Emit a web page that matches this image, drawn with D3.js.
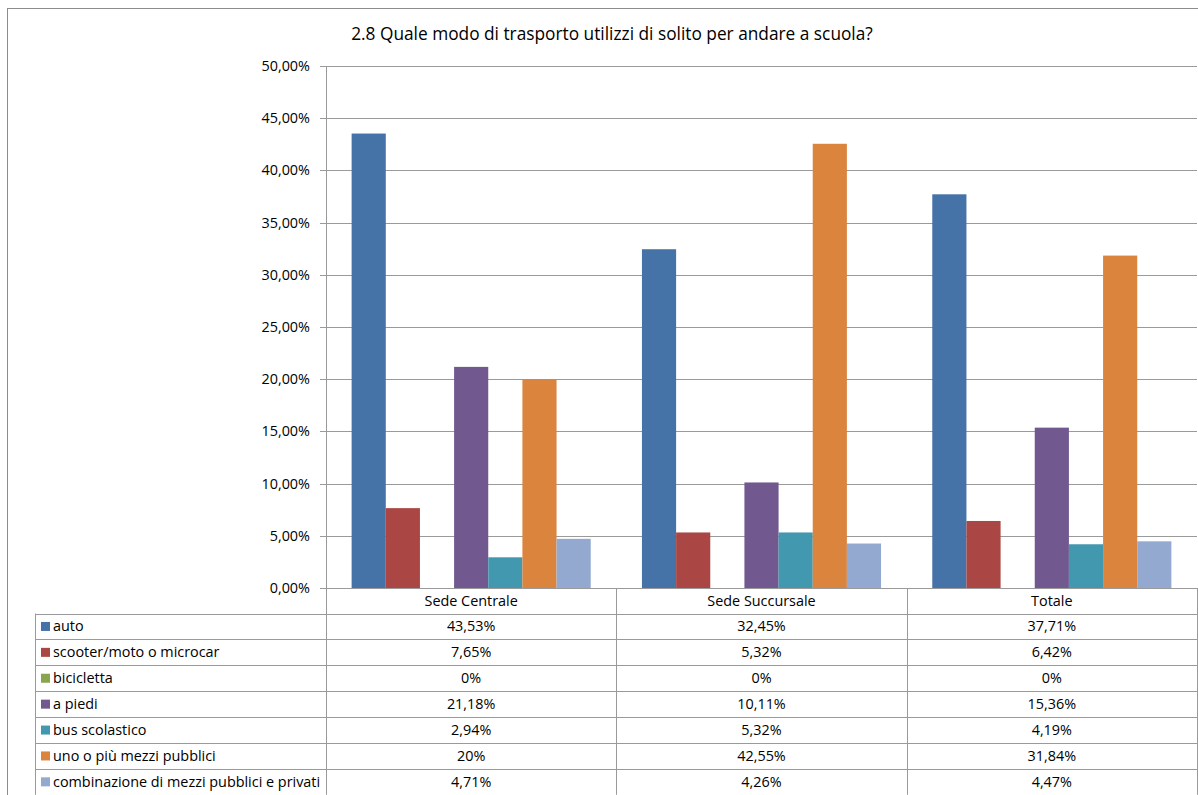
<!DOCTYPE html>
<html><head><meta charset="utf-8">
<script src="https://cdn.jsdelivr.net/npm/d3@7"></script>
<style>body{margin:0;background:#fff;}svg{display:block;font-family:"Open Sans","Noto Sans",sans-serif;}</style>
</head><body><svg id="c" width="1198" height="795"></svg>
<script>
const title = "2.8 Quale modo di trasporto utilizzi di solito per andare a scuola?";
const categories = ["Sede Centrale", "Sede Succursale", "Totale"];
const seriesNames = ["auto", "scooter/moto o microcar", "bicicletta", "a piedi", "bus scolastico", "uno o più mezzi pubblici", "combinazione di mezzi pubblici e privati"];
const seriesColors = ["#4572A7", "#AA4643", "#89A54E", "#71588F", "#4198AF", "#DB843D", "#93A9CF"];
const auto = [43.53, 32.45, 37.71];
const scooter = [7.65, 5.32, 6.42];
const bicicletta = [0, 0, 0];
const aPiedi = [21.18, 10.11, 15.36];
const bus = [2.94, 5.32, 4.19];
const mezziPubblici = [20, 42.55, 31.84];
const combinazione = [4.71, 4.26, 4.47];
const tableLabels = [
  ["43,53%", "32,45%", "37,71%"],
  ["7,65%", "5,32%", "6,42%"],
  ["0%", "0%", "0%"],
  ["21,18%", "10,11%", "15,36%"],
  ["2,94%", "5,32%", "4,19%"],
  ["20%", "42,55%", "31,84%"],
  ["4,71%", "4,26%", "4,47%"]
];
const yTicks = [0, 5, 10, 15, 20, 25, 30, 35, 40, 45, 50];
const series = [auto, scooter, bicicletta, aPiedi, bus, mezziPubblici, combinazione];

(function(){
const svg = d3.select("#c");
const W = 1198, H = 795;
const pLeft = 326, pRight = 1197, pTop = 66, pBottom = 588;
const tableTop = 613.5, rowH = 25.9, labelLeft = 35;
const fs = 14.4;

svg.append("rect").attr("x", 7.5).attr("y", 8.5).attr("width", W + 10).attr("height", H + 10)
  .attr("fill", "none").attr("stroke", "#8c8c8c").attr("stroke-width", 1);

svg.append("text").attr("x", 612).attr("y", 40).attr("text-anchor", "middle")
  .attr("font-size", 17.3).attr("fill", "#000").text(title);

const y = d3.scaleLinear().domain([0, 50]).range([pBottom, pTop]);
const x0 = d3.scaleBand().domain(categories).range([pLeft, pRight]);
const unit = x0.bandwidth() / 8.5;
const x1 = d3.scaleBand().domain(d3.range(seriesNames.length))
  .range([unit * 0.75, x0.bandwidth() - unit * 0.75]);

svg.append("g").selectAll("line").data(yTicks).join("line")
  .attr("x1", pLeft - 6).attr("x2", pRight).attr("y1", d => Math.round(y(d)) + 0.5).attr("y2", d => Math.round(y(d)) + 0.5)
  .attr("stroke", "#9a9a9a").attr("stroke-width", 1);

svg.append("g").selectAll("text").data(yTicks).join("text")
  .attr("x", 310).attr("y", d => y(d) + 5).attr("text-anchor", "end")
  .attr("font-size", 14.4).attr("fill", "#000")
  .text(d => d3.format(".2f")(d).replace(".", ",") + "%");

const g = svg.append("g");
categories.forEach((c, ci) => {
  series.forEach((s, si) => {
    if (s[ci] <= 0) return;
    g.append("rect")
      .attr("x", x0(c) + x1(si))
      .attr("y", y(s[ci]))
      .attr("width", x1.bandwidth())
      .attr("height", pBottom - y(s[ci]))
      .attr("fill", seriesColors[si]);
  });
});

const tableBottom = tableTop + rowH * seriesNames.length;
svg.append("line").attr("x1", pLeft + 0.5).attr("x2", pLeft + 0.5).attr("y1", pTop).attr("y2", tableBottom)
  .attr("stroke", "#9a9a9a");
const seps = categories.map(c => x0(c) + x0.bandwidth());
svg.append("g").selectAll("line").data(seps).join("line")
  .attr("x1", d => Math.round(d) + 0.5).attr("x2", d => Math.round(d) + 0.5)
  .attr("y1", pBottom).attr("y2", tableBottom).attr("stroke", "#9a9a9a");

svg.append("g").selectAll("text").data(categories).join("text")
  .attr("x", d => x0(d) + x0.bandwidth() / 2).attr("y", 606).attr("text-anchor", "middle")
  .attr("font-size", fs).text(d => d);

svg.append("g").selectAll("line").data(d3.range(seriesNames.length + 1)).join("line")
  .attr("x1", labelLeft).attr("x2", pRight + 0.5)
  .attr("y1", i => Math.round(tableTop + i * rowH) + 0.5).attr("y2", i => Math.round(tableTop + i * rowH) + 0.5)
  .attr("stroke", "#9a9a9a");
svg.append("line").attr("x1", labelLeft + 0.5).attr("x2", labelLeft + 0.5).attr("y1", tableTop).attr("y2", tableBottom)
  .attr("stroke", "#9a9a9a");

seriesNames.forEach((n, i) => {
  const cy = tableTop + i * rowH + rowH / 2;
  svg.append("rect").attr("x", 41).attr("y", cy - 4.5).attr("width", 9).attr("height", 9).attr("fill", seriesColors[i]);
  svg.append("text").attr("x", 53).attr("y", cy + 5).attr("font-size", fs).text(n);
  categories.forEach((c, ci) => {
    svg.append("text").attr("x", x0(c) + x0.bandwidth() / 2).attr("y", cy + 5)
      .attr("text-anchor", "middle").attr("font-size", fs).text(tableLabels[i][ci]);
  });
});
})();
</script></body></html>
